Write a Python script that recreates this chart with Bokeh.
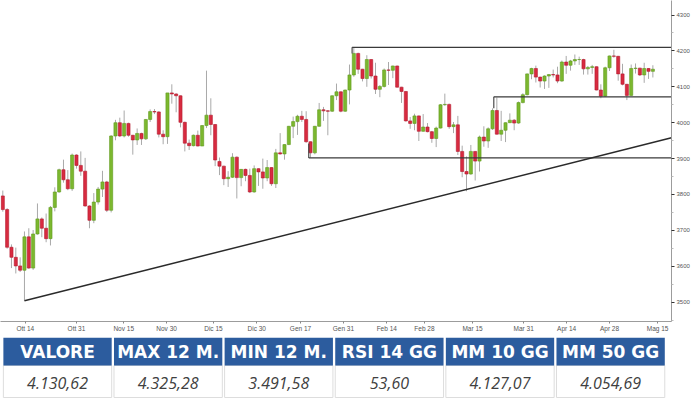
from bokeh.plotting import figure
from bokeh.models import Range1d, FixedTicker, Label, ColumnDataSource
from bokeh.layouts import column
from bokeh.embed import file_html
from bokeh.resources import INLINE
from bokeh.core.properties import value

# ---------------- data (daily candles, Oct 6 2022 - May 12 2023) ----------------
open_ = [3796, 3758, 3653, 3625, 3601, 3589, 3682, 3595, 3690, 3732,
         3706, 3677, 3764, 3807, 3869, 3841, 3816, 3910, 3881, 3865,
         3768, 3728, 3779, 3815, 3835, 3756, 3963, 4000, 3963, 3998,
         3965, 3952, 3970, 3955, 4009, 4031, 4030, 3968, 3961, 4083,
         4080, 4075, 4001, 3943, 3936, 3965, 3935, 3992, 4021, 3995,
         3892, 3879, 3844, 3848, 3904, 3847, 3870, 3853, 3807, 3872,
         3863, 3846, 3875, 3830, 3916, 3913, 3939, 3990, 4003, 4018,
         4009, 3947, 3916, 3990, 4036, 4033, 4032, 4075, 4086, 4032,
         4091, 4133, 4193, 4149, 4123, 4176, 4130, 4093, 4101, 4147,
         4146, 4158, 4099, 4087, 4005, 3998, 4019, 3976, 3988, 3975,
         3956, 3985, 4050, 4051, 3989, 3994, 3920, 3864, 3857, 3920,
         3893, 3960, 3949, 3983, 4034, 3968, 3979, 4000, 4007, 3999,
         4056, 4078, 4136, 4151, 4127, 4116, 4130, 4134, 4133, 4116,
         4169, 4160, 4172, 4176, 4176, 4150, 4154, 4156, 4091, 4074,
         4153, 4186, 4185, 4136, 4107, 4076, 4151, 4152, 4133, 4151,
         4143]
high = [3811, 3762, 3661, 3652, 3625, 3697, 3706, 3701, 3775, 3736,
        3747, 3768, 3820, 3872, 3897, 3868, 3914, 3912, 3920, 3902,
        3770, 3804, 3821, 3866, 3838, 3965, 4008, 4014, 4034, 4000,
        3966, 3984, 3972, 4010, 4037, 4038, 4032, 3979, 4083, 4107,
        4082, 4076, 4003, 3953, 3967, 3978, 3993, 4145, 4068, 3996,
        3903, 3880, 3865, 3915, 3906, 3871, 3872, 3872, 3881, 3873,
        3900, 3896, 3876, 3927, 3971, 3940, 3991, 4017, 4022, 4033,
        4032, 3948, 3991, 4055, 4044, 4035, 4076, 4109, 4087, 4092,
        4162, 4208, 4195, 4150, 4188, 4177, 4167, 4105, 4151, 4169,
        4159, 4159, 4100, 4088, 4016, 4025, 4020, 4024, 3999, 3977,
        3989, 4052, 4081, 4053, 4002, 4019, 3936, 3906, 3938, 3921,
        3964, 3990, 3987, 4040, 4070, 4033, 4001, 4026, 4010, 4059,
        4082, 4137, 4153, 4159, 4128, 4132, 4135, 4148, 4156, 4173,
        4186, 4175, 4190, 4184, 4178, 4158, 4161, 4157, 4107, 4156,
        4187, 4203, 4186, 4164, 4108, 4162, 4165, 4153, 4167, 4152,
        4160]
low = [3752, 3649, 3595, 3580, 3584, 3504, 3593, 3590, 3688, 3681,
       3667, 3658, 3753, 3805, 3833, 3812, 3810, 3872, 3852, 3766,
       3706, 3720, 3772, 3793, 3751, 3750, 3951, 3960, 3959, 3961,
       3911, 3938, 3938, 3952, 4002, 4024, 3959, 3940, 3941, 4053,
       4029, 3987, 3920, 3924, 3934, 3934, 3936, 3985, 3965, 3879,
       3854, 3826, 3821, 3846, 3789, 3823, 3837, 3804, 3805, 3824,
       3816, 3837, 3824, 3818, 3911, 3897, 3938, 3957, 3966, 4002,
       3944, 3903, 3912, 3989, 4005, 3965, 4030, 4063, 4029, 4030,
       4051, 4128, 4136, 4115, 4100, 4123, 4080, 4071, 4098, 4105,
       4124, 4098, 4055, 4003, 3983, 3979, 3949, 3975, 3973, 3944,
       3932, 3984, 4047, 3983, 3971, 3910, 3848, 3809, 3855, 3839,
       3864, 3933, 3930, 3980, 3967, 3949, 3946, 3999, 3979, 3997,
       4054, 4076, 4121, 4112, 4098, 4094, 4097, 4126, 4110, 4114,
       4136, 4145, 4161, 4161, 4134, 4134, 4136, 4090, 4068, 4072,
       4144, 4181, 4117, 4104, 4063, 4075, 4137, 4130, 4111, 4122,
       4126]
close = [3758, 3653, 3625, 3601, 3589, 3682, 3595, 3690, 3732, 3706,
         3677, 3764, 3807, 3869, 3841, 3816, 3910, 3881, 3865, 3768,
         3728, 3779, 3815, 3835, 3756, 3963, 4000, 3963, 3998, 3965,
         3952, 3970, 3955, 4009, 4031, 4030, 3968, 3961, 4083, 4080,
         4075, 4001, 3943, 3936, 3965, 3935, 3992, 4021, 3995, 3896,
         3879, 3844, 3848, 3904, 3847, 3870, 3853, 3807, 3872, 3863,
         3846, 3875, 3830, 3916, 3913, 3939, 3990, 4003, 4018, 4009,
         3947, 3916, 3990, 4036, 4033, 4032, 4075, 4086, 4032, 4091,
         4133, 4193, 4149, 4123, 4176, 4130, 4093, 4101, 4147, 4146,
         4158, 4099, 4087, 4005, 3998, 4019, 3976, 3988, 3975, 3956,
         3985, 4050, 4051, 3989, 3994, 3920, 3864, 3857, 3920, 3893,
         3960, 3949, 3983, 4034, 3968, 3979, 4000, 4007, 3999, 4056,
         4078, 4136, 4151, 4127, 4116, 4130, 4134, 4133, 4116, 4169,
         4160, 4172, 4176, 4176, 4150, 4154, 4156, 4091, 4074, 4153,
         4186, 4185, 4136, 4107, 4076, 4151, 4152, 4133, 4151, 4143,
         4149]

x_tick_labels = ["Ott 14", "Ott 31", "Nov 15", "Nov 30", "Dic 15", "Dic 30", "Gen 17",
                 "Gen 31", "Feb 14", "Feb 28", "Mar 15", "Mar 31", "Apr 14", "Apr 28", "Mag 15"]
x_tick_pos = [5.2, 17.0, 27.9, 37.8, 48.6, 58.6, 68.7, 78.6, 88.6, 97.3, 108.4, 120.2,
              130.1, 140.0, 151.1]
y_ticks = [3500, 3600, 3700, 3800, 3900, 4000, 4100, 4200, 4300]
year_labels = ["2022", "2023"]
year_pos = [22.5, 106.3]
last_price_text = "4131.25"

# drawn levels: (start index, level, anchor price of the short starting stub)
res_top = (80.6, 4210, 4193)
res_mid = (113.3, 4072, 4040)
sup_low = (70.6, 3902, 3942)
trend_x = [5.0, 154.3]
trend_y = [3504, 3958]

headers = ["VALORE", "MAX 12 M.", "MIN 12 M.", "RSI 14 GG", "MM 10 GG", "MM 50 GG"]
values = ["4.130,62", "4.325,28", "3.491,58", "53,60", "4.127,07", "4.054,69"]

# ---------------- chart ----------------
GREEN, GREEN_L = "#7cb82f", "#5f9a1d"
RED, RED_L = "#d82b40", "#b3192d"

n = len(close)
idx = list(range(n))
up = [c >= o for o, c in zip(open_, close)]
src = ColumnDataSource(dict(
    x=idx, o=open_, h=high, l=low, c=close,
    top=[max(o, c) for o, c in zip(open_, close)],
    bot=[min(o, c) for o, c in zip(open_, close)],
    fill=[GREEN if u else RED for u in up],
    line=[GREEN_L if u else RED_L for u in up],
))

x_end = 154.3
p = figure(frame_width=671, frame_height=321, output_backend="svg", toolbar_location=None,
           x_range=Range1d(-0.53, x_end), y_range=Range1d(3446.2, 4340.4),
           y_axis_location="right", min_border_left=0, min_border_top=0,
           min_border_right=29, min_border_bottom=16)
p.outline_line_color = None
p.grid.visible = False
p.background_fill_color = "white"

p.segment(x0="x", y0="l", x1="x", y1="h", source=src, line_color="#a9a9a9", line_width=1)
p.vbar(x="x", top="top", bottom="bot", width=0.72, source=src,
       fill_color="fill", line_color="line", line_width=0.6)

lc = "#3a3a3a"
levels = [res_top, res_mid, sup_low]
p.segment(x0=[lv[0] for lv in levels], x1=[x_end] * 3,
          y0=[lv[1] for lv in levels], y1=[lv[1] for lv in levels],
          line_color=lc, line_width=1.3)
p.segment(x0=[lv[0] for lv in levels], x1=[lv[0] for lv in levels],
          y0=[lv[1] for lv in levels], y1=[lv[2] for lv in levels],
          line_color=lc, line_width=1.1)
p.line(trend_x, trend_y, line_color="#2a2a2a", line_width=1.5)

yax = p.yaxis[0]
yax.ticker = FixedTicker(ticks=y_ticks, minor_ticks=[v + 50 for v in y_ticks[:-1]] + [3450])
yax.axis_line_color = "#9c9c9c"
yax.major_tick_line_color = "#333333"
yax.minor_tick_line_color = "#bbbbbb"
yax.major_tick_out = 3
yax.major_tick_in = 0
yax.minor_tick_out = 2
yax.minor_tick_in = 0
yax.major_label_standoff = 2
yax.major_label_text_font_size = "6px"
yax.major_label_text_color = "#555555"
yax.major_label_text_font = "Liberation Sans"

xax = p.xaxis[0]
xax.ticker = FixedTicker(ticks=x_tick_pos)
xax.major_label_overrides = {t: s for t, s in zip(x_tick_pos, x_tick_labels)}
xax.axis_line_color = "#9c9c9c"
xax.major_tick_line_color = "#888888"
xax.major_tick_out = 2
xax.major_tick_in = 0
xax.minor_tick_line_color = None
xax.major_label_standoff = 1
xax.major_label_text_font_size = "6.5px"
xax.major_label_text_color = "#555555"
xax.major_label_text_font = "Liberation Sans"

for s, xp in zip(year_labels, year_pos):
    p.add_layout(Label(x=xp, y=3413, text=s, text_align="center", text_baseline="middle",
                       text_font_size="5.5px", text_color="#666666", text_font="Liberation Sans"))

p.add_layout(Label(x=x_end + 0.25, y=close[-1], text=last_price_text, text_align="left",
                   text_baseline="middle", text_font_size="6px", text_color="white",
                   text_font="Liberation Sans",
                   background_fill_color="#6fb52c", padding=2))

# ---------------- table ----------------
W, H = 700, 63
t = figure(width=W, height=H, x_range=Range1d(0, W), y_range=Range1d(0, H),
           output_backend="svg", toolbar_location=None, x_axis_type=None, y_axis_type=None,
           min_border=0)
t.outline_line_color = None
t.grid.visible = False
cell_w, pitch = 113.0, 115.4
xs = [3 + cell_w / 2 + i * pitch for i in range(len(headers))]
t.rect(x=xs, y=[19] * 6, width=cell_w, height=32, fill_color="white", line_color="#dddddd")
t.rect(x=xs, y=[49] * 6, width=cell_w, height=28, fill_color="#2c5c9e", line_color=None)
t.text(x=xs, y=[48.5] * 6, text=headers, text_align="center", text_baseline="middle",
       text_font=value("DejaVu Sans"), text_font_style="bold", text_font_size="17px",
       text_color="white")
t.text(x=xs, y=[18] * 6, text=values, text_align="center", text_baseline="middle",
       text_font=value("Open Sans"), text_font_style="italic", text_font_size="16px",
       text_color="#404040")

layout = column(p, t, spacing=0)
open("out.html", "w").write(file_html(layout, INLINE))
